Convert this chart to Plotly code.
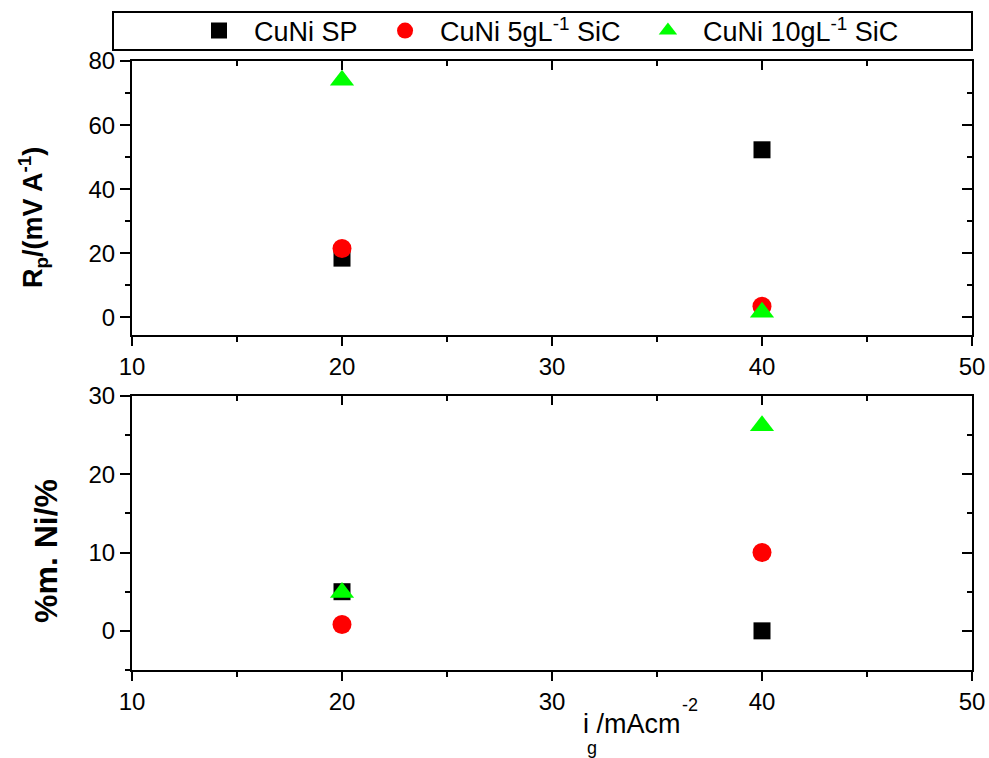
import plotly.graph_objects as go

current = [20, 40]
series_names = ["CuNi SP", "CuNi 5gL<sup>-1</sup> SiC", "CuNi 10gL<sup>-1</sup> SiC"]
rp_sp = [18.5, 52.3]
rp_5 = [21.5, 3.5]
rp_10 = [74.0, 1.6]
ni_sp = [5.0, 0.0]
ni_5 = [0.8, 10.0]
ni_10 = [4.9, 26.2]
x_ticks = [10, 20, 30, 40, 50]
rp_ticks = [0, 20, 40, 60, 80]
ni_ticks = [0, 10, 20, 30]

colors = ["#000000", "#ff0000", "#00ff00"]
symbols = ["square", "circle", "triangle-up"]
sizes = [17, 19, 21]

FONT = "Liberation Sans, Arial, sans-serif"
NB = "\u00a0"
legend_labels = [NB * 2 + series_names[0] + NB * 3,
                 NB * 2 + series_names[1] + NB * 3,
                 NB * 2 + series_names[2]]

fig = go.Figure()

top_vals = [rp_sp, rp_5, rp_10]
bot_vals = [ni_sp, ni_5, ni_10]
for i in range(3):
    fig.add_trace(go.Scatter(x=current, y=top_vals[i], mode="markers", name=legend_labels[i],
                             marker=dict(color=colors[i], symbol=symbols[i], size=sizes[i], line=dict(width=0)),
                             xaxis="x", yaxis="y", showlegend=True))
for i in range(3):
    fig.add_trace(go.Scatter(x=current, y=bot_vals[i], mode="markers", name=legend_labels[i],
                             marker=dict(color=colors[i], symbol=symbols[i], size=sizes[i], line=dict(width=0)),
                             xaxis="x2", yaxis="y2", showlegend=False))
# empty traces to activate mirror axes
fig.add_trace(go.Scatter(x=[], y=[], xaxis="x3", yaxis="y3", showlegend=False))
fig.add_trace(go.Scatter(x=[], y=[], xaxis="x4", yaxis="y4", showlegend=False))

tickfont = dict(family=FONT, size=24, color="#000000")
common = dict(showline=True, linecolor="#000000", linewidth=2, showgrid=False, zeroline=False,
              tickcolor="#000000", tickwidth=2, tickfont=tickfont, automargin=False)

top_dom = [0.55, 1.0]
bot_dom = [0.0, 0.45]
xr = [10, 50]
yr1 = [-5.5, 80]
yr2 = [-5, 30]

xmain = dict(range=xr, tickvals=x_ticks, ticks="outside", ticklen=9,
             minor=dict(dtick=5, ticks="outside", ticklen=5, tickwidth=2, tickcolor="#000000"), **common)
xmirror = dict(range=xr, tickvals=x_ticks, ticks="inside", ticklen=9, showticklabels=False, side="top",
               minor=dict(dtick=5, ticks="inside", ticklen=5, tickwidth=2, tickcolor="#000000"), **common)

fig.update_layout(
    width=989, height=758,
    margin=dict(l=132, r=17, t=61, b=88, autoexpand=False),
    paper_bgcolor="white", plot_bgcolor="white",
    font=dict(family=FONT, color="#000000"),
    xaxis=dict(domain=[0, 1], anchor="y", **xmain),
    yaxis=dict(domain=top_dom, anchor="x", range=yr1, tickvals=rp_ticks, ticks="outside", ticklen=10,
               minor=dict(dtick=10, ticks="outside", ticklen=5, tickwidth=2, tickcolor="#000000"), **common),
    xaxis2=dict(domain=[0, 1], anchor="y2", **xmain),
    yaxis2=dict(domain=bot_dom, anchor="x2", range=yr2, tickvals=ni_ticks, ticks="outside", ticklen=10,
                minor=dict(dtick=5, ticks="outside", ticklen=5, tickwidth=2, tickcolor="#000000"), **common),
    xaxis3=dict(overlaying="x", anchor="y3", **xmirror),
    yaxis3=dict(overlaying="y", anchor="x3", side="right", range=yr1, tickvals=rp_ticks, ticks="inside",
                ticklen=10, showticklabels=False,
                minor=dict(dtick=10, ticks="inside", ticklen=5, tickwidth=2, tickcolor="#000000"), **common),
    xaxis4=dict(overlaying="x2", anchor="y4", **xmirror),
    yaxis4=dict(overlaying="y2", anchor="x4", side="right", range=yr2, tickvals=ni_ticks, ticks="inside",
                ticklen=10, showticklabels=False,
                minor=dict(dtick=5, ticks="inside", ticklen=5, tickwidth=2, tickcolor="#000000"), **common),
    legend=dict(orientation="h", x=(199 - 132) / 840, xanchor="left", y=(670 - 31) / 609, yanchor="middle",
                bgcolor="rgba(0,0,0,0)", borderwidth=0,
                font=dict(family=FONT, size=27, color="#000000"), itemsizing="trace"),
    showlegend=True,
)

fig.add_shape(type="rect", xref="paper", yref="paper", x0=(113 - 132) / 840, x1=1.0,
              y0=(670 - 50) / 609, y1=(670 - 12) / 609,
              line=dict(color="#000000", width=2), fillcolor="rgba(0,0,0,0)")

fig.add_annotation(text="<b>R<sub>p</sub>/(mV A<sup>-1</sup>)</b>", xref="paper", yref="paper",
                   x=(33 - 132) / 840, y=(670 - 218) / 609, textangle=-90, showarrow=False,
                   font=dict(family=FONT, size=27, color="#000000"), xanchor="center", yanchor="middle")
fig.add_annotation(text="<b>%m. Ni/%</b>", xref="paper", yref="paper",
                   x=(46 - 132) / 840, y=(670 - 551) / 609, textangle=-90, showarrow=False,
                   font=dict(family=FONT, size=32, color="#000000"), xanchor="center", yanchor="middle")
# x-axis title: i (sub g) /mAcm (sup -2)
fig.add_annotation(text="i /mAcm", xref="paper", yref="paper",
                   x=(632 - 132) / 840, y=(670 - 724) / 609, showarrow=False,
                   font=dict(family=FONT, size=27, color="#000000"), xanchor="center", yanchor="middle")
fig.add_annotation(text="-2", xref="paper", yref="paper",
                   x=(690 - 132) / 840, y=(670 - 705) / 609, showarrow=False,
                   font=dict(family=FONT, size=18, color="#000000"), xanchor="center", yanchor="middle")
fig.add_annotation(text="g", xref="paper", yref="paper",
                   x=(592 - 132) / 840, y=(670 - 748) / 609, showarrow=False,
                   font=dict(family=FONT, size=18, color="#000000"), xanchor="center", yanchor="middle")

fig.write_html("out.html")
